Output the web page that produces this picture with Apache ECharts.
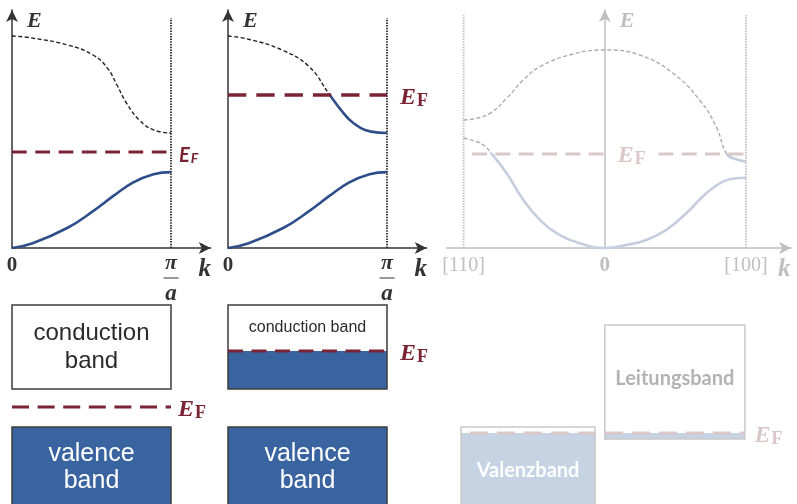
<!DOCTYPE html>
<html>
<head>
<meta charset="utf-8">
<script src="https://cdn.jsdelivr.net/npm/echarts@6/dist/echarts.min.js"></script>
<style>
  html, body { margin: 0; padding: 0; background: #ffffff; }
  #chart { width: 797px; height: 504px; }
</style>
</head>
<body>
<div id="chart"></div>
<script>
// ---- E(k) data, energies in arbitrary units, k in units of the zone edge ----
// insulator
const kUpperInsulator = [0, 0.13, 0.35, 0.51, 0.60, 0.66, 0.72, 0.80, 0.89, 1.0];
const eUpperInsulator = [8.91, 8.82, 8.53, 8.11, 7.56, 6.85, 6.09, 5.38, 4.96, 4.83];
const kLowerBand = [0, 0.13, 0.35, 0.51, 0.64, 0.76, 0.89, 1.0];
const eLowerBand = [0, 0.20, 0.85, 1.55, 2.20, 2.75, 3.10, 3.19];
const fermiInsulator = 4.03;

// metal: upper band dips below the Fermi level
const kUpperMetal = [0, 0.13, 0.34, 0.51, 0.64, 0.71, 0.79, 0.90, 1.0];
const eUpperMetal = [8.91, 8.77, 8.32, 7.62, 6.43, 5.80, 5.24, 4.89, 4.83];
const fermiMetal = 6.43;

// semimetal, two directions [110] (k < 0) and [100] (k > 0)
const kUpperSemi = [-1, -0.931, -0.813, -0.695, -0.577, -0.459, -0.224, 0, 0.247, 0.483, 0.671, 0.789, 0.864, 0.931, 1.0];
const eUpperSemi = [5.38, 5.42, 5.66, 6.29, 7.06, 7.62, 8.15, 8.32, 8.11, 7.34, 6.22, 5.10, 3.95, 3.73, 3.63];
const kLowerSemi = [-1, -0.93, -0.86, -0.80, -0.695, -0.577, -0.459, -0.341, -0.177, 0, 0.153, 0.295, 0.436, 0.577, 0.719, 0.836, 0.931, 1.0];
const eLowerSemi = [4.61, 4.51, 4.33, 3.95, 3.14, 2.02, 1.18, 0.62, 0.20, 0, 0.13, 0.34, 0.76, 1.46, 2.30, 2.79, 2.93, 2.95];
const fermiSemi = 3.95;

// axis ticks
const kTicks = [0, 1];
const kTickLabels = ['0', 'π/a'];
const kTicksSemi = [-1, 0, 1];
const kTickLabelsSemi = ['[110]', '0', '[100]'];
const zoneEdgeTop = 9.66;
const zoneEdgeTopSemi = 9.79;

// ---- band boxes: [k from, k to, E bottom, E top, filled up to] ----
const boxesInsulator = [[0, 1, 11.5, 19.9, 11.5], [0, 1, -0.5, 7.7, 7.7]];
const boxLabelsInsulator = ['conduction\nband', 'valence\nband'];
const boxFermiInsulator = 9.7;

const boxesMetal = [[0, 1, 11.5, 19.9, 15.3], [0, 1, -0.5, 7.7, 7.7]];
const boxLabelsMetal = ['conduction band', 'valence\nband'];
const boxFermiMetal = 15.3;

const boxesSemi = [[0, 0.992, 6.5, 17.9, 7.1], [-1.018, -0.069, -0.5, 7.7, 7.1]];
const boxLabelsSemi = ['Leitungsband', 'Valenzband'];
const boxFermiSemi = 7.1;
const boxFermiSpanSemi = [-0.955, 0.99];

// ---- styles ----
const INK = '#333333';
const BLUE = '#2f4f8a';
const FERMI = '#7a2333';
const BOX_BLUE = '#3a64a0';
const FADE_AXIS = '#bfbfbf';
const FADE_TEXT = '#b3b3b3';
const FADE_BLUE = '#c5cede';
const FADE_DASH = '#acacac';
const FADE_FERMI = '#dac7c7';
const FADE_FILL = '#c6d3e3';
const SERIF = '"Liberation Serif", "DejaVu Serif", serif';
const SANS = '"Liberation Sans", Arial, sans-serif';
const ROUND = 'Lato, "Open Sans", sans-serif';

// ---- panel frames: pixel origin of (k = 0, E = 0) and pixels per unit ----
const frameInsulator = { x0: 12, y0: 248, sx: 159, sy: 23.8 };
const frameMetal = { x0: 228, y0: 248, sx: 159, sy: 23.8 };
const frameSemi = { x0: 604.8, y0: 248, sx: 141.2, sy: 23.8 };
const frameBoxInsulator = { x0: 12, y0: 504, sx: 159, sy: 10 };
const frameBoxMetal = { x0: 228, y0: 504, sx: 159, sy: 10 };
const frameBoxSemi = { x0: 604.8, y0: 504, sx: 141.2, sy: 10 };

const grids = [], xAxes = [], yAxes = [];
function addGrid(f, kRange, eRange, xOpts, yOpts) {
  const i = grids.length;
  grids.push({
    left: f.x0 + kRange[0] * f.sx, top: f.y0 - eRange[1] * f.sy,
    width: (kRange[1] - kRange[0]) * f.sx, height: (eRange[1] - eRange[0]) * f.sy
  });
  xAxes.push(Object.assign({ type: 'value', gridIndex: i, min: kRange[0], max: kRange[1] }, xOpts || { show: false }));
  yAxes.push(Object.assign({ type: 'value', gridIndex: i, min: eRange[0], max: eRange[1] }, yOpts || { show: false }));
  return i;
}

function pairs(ks, es) { return ks.map((k, i) => [k, es[i]]); }

function curve(grid, data, lineStyle) {
  return {
    type: 'line', xAxisIndex: grid, yAxisIndex: grid, data: data, clip: true,
    smooth: 0.45, symbol: 'none', silent: true, z: 3, lineStyle: lineStyle
  };
}

function fermiRich(color, sans) {
  if (sans) {
    return {
      e: { fontFamily: ROUND, fontStyle: 'italic', fontWeight: 'bold', fontSize: 20, color: color, lineHeight: 22, verticalAlign: 'bottom' },
      f: { fontFamily: ROUND, fontStyle: 'italic', fontWeight: 'bold', fontSize: 14, color: color, lineHeight: 12, padding: [10, 0, 0, 1], verticalAlign: 'bottom' }
    };
  }
  return {
    e: { fontFamily: SERIF, fontStyle: 'italic', fontWeight: 'bold', fontSize: 24, color: color, lineHeight: 24, verticalAlign: 'bottom' },
    f: { fontFamily: SERIF, fontWeight: 'bold', fontSize: 18, color: color, lineHeight: 16, padding: [12, 0, 0, 1], verticalAlign: 'bottom' }
  };
}

function fermiLine(grid, k0, k1, e, color, width, dash, labelDist, sans, offsetY) {
  return {
    type: 'line', xAxisIndex: grid, yAxisIndex: grid, data: [[k0, e], [k1, e]],
    symbol: 'none', silent: true, z: 4,
    lineStyle: { color: color, width: width, type: dash },
    endLabel: {
      show: true, distance: labelDist, offset: [0, offsetY || 0],
      formatter: '{e|E}{f|F}', rich: fermiRich(color, sans)
    }
  };
}

function zoneEdge(grid, k, top, color) {
  return {
    type: 'line', xAxisIndex: grid, yAxisIndex: grid, data: [[k, 0], [k, top]],
    symbol: 'none', silent: true, z: 2,
    lineStyle: { color: color, width: 1.8, type: [1.5, 1.2] }
  };
}

function tickRich(color) {
  return {
    n: { fontFamily: SERIF, fontWeight: 'bold', fontSize: 21, color: color, lineHeight: 24 },
    m: { fontFamily: SERIF, fontSize: 20, color: color, lineHeight: 24 },
    num: { fontFamily: SERIF, fontWeight: 'bold', fontStyle: 'italic', fontSize: 22, color: color, lineHeight: 18 },
    bar: { width: 15, height: 0, borderColor: color, borderWidth: 1.2, lineHeight: 12 },
    den: { fontFamily: SERIF, fontWeight: 'bold', fontStyle: 'italic', fontSize: 23, color: color, lineHeight: 20 }
  };
}

function kAxis(ticks, labels, color, nameGap) {
  return {
    name: 'k', nameLocation: 'end', nameGap: nameGap,
    nameTextStyle: { fontFamily: SERIF, fontWeight: 'bold', fontStyle: 'italic', fontSize: 25, color: color, align: 'center', verticalAlign: 'top', padding: [9, 0, 0, 0] },
    axisLine: { show: true, onZero: true, symbol: ['none', 'arrow'], symbolSize: [9, 12], lineStyle: { color: color, width: 1.5 } },
    axisTick: { show: false }, splitLine: { show: false },
    axisLabel: {
      show: true, margin: 6, customValues: ticks,
      formatter: function (v) {
        const t = labels[ticks.indexOf(v)];
        if (t === undefined) return '';
        if (t.indexOf('/') >= 0) {
          const parts = t.split('/');
          return '{num|' + parts[0] + '}\n{bar|}\n{den|' + parts[1] + '}';
        }
        return /^\d+$/.test(t) ? '{n|' + t + '}' : '{m|' + t + '}';
      },
      rich: tickRich(color)
    }
  };
}

function eAxis(color) {
  return {
    name: 'E', nameLocation: 'end', nameGap: 0,
    nameTextStyle: { fontFamily: SERIF, fontWeight: 'bold', fontStyle: 'italic', fontSize: 22, color: color, align: 'left', verticalAlign: 'top', padding: [0, 0, 0, 15] },
    axisLine: { show: true, onZero: true, symbol: ['none', 'arrow'], symbolSize: [9, 12], lineStyle: { color: color, width: 1.5 } },
    axisTick: { show: false }, axisLabel: { show: false }, splitLine: { show: false }
  };
}

function bandBoxes(grid, boxes, labels, look) {
  return {
    type: 'custom', xAxisIndex: grid, yAxisIndex: grid, silent: true, z: 2,
    data: boxes,
    renderItem: function (params, api) {
      const k0 = api.value(0), k1 = api.value(1), lo = api.value(2), hi = api.value(3), fill = api.value(4);
      const tl = api.coord([k0, hi]);
      const br = api.coord([k1, lo]);
      const fillTop = api.coord([k0, fill])[1];
      const x = tl[0], y = tl[1], w = br[0] - tl[0], h = br[1] - tl[1];
      const children = [];
      if (fill > lo) {
        children.push({ type: 'rect', shape: { x: x, y: fillTop, width: w, height: br[1] - fillTop }, style: { fill: look.fill } });
      }
      children.push({ type: 'rect', shape: { x: x, y: y, width: w, height: h }, style: { fill: 'none', stroke: look.stroke, lineWidth: look.strokeWidth } });
      const inFill = (fill - lo) > (hi - lo) / 2;
      const cy = inFill ? (fillTop + br[1]) / 2 : (y + fillTop) / 2;
      const t = look.text[params.dataIndex];
      children.push({
        type: 'text',
        style: {
          text: labels[params.dataIndex], x: x + w / 2, y: cy,
          align: 'center', verticalAlign: 'middle',
          fill: inFill ? t.onFill : t.color,
          fontSize: t.size, fontFamily: t.family, fontWeight: t.weight, lineHeight: t.lineHeight
        }
      });
      return { type: 'group', children: children };
    }
  };
}

const dashBlack = { color: '#222222', width: 1.4, type: [4, 2.4] };
const solidBlue = { color: BLUE, width: 2.6 };
const dashFade = { color: FADE_DASH, width: 1.4, type: [4, 2.4] };
const solidFade = { color: FADE_BLUE, width: 2.6 };

const darkLook = {
  fill: BOX_BLUE, stroke: '#3c3c3c', strokeWidth: 1.5,
  text: [
    { color: '#2b2b2b', onFill: '#ffffff', size: 24, family: SANS, weight: 'normal', lineHeight: 28 },
    { color: '#2b2b2b', onFill: '#ffffff', size: 25, family: SANS, weight: 'normal', lineHeight: 27 }
  ]
};
const darkLookMetal = {
  fill: BOX_BLUE, stroke: '#3c3c3c', strokeWidth: 1.5,
  text: [
    { color: '#2b2b2b', onFill: '#ffffff', size: 16, family: SANS, weight: 'normal', lineHeight: 20 },
    { color: '#2b2b2b', onFill: '#ffffff', size: 25, family: SANS, weight: 'normal', lineHeight: 27 }
  ]
};
const fadeLook = {
  fill: FADE_FILL, stroke: '#c9c9c9', strokeWidth: 1.5,
  text: [
    { color: FADE_TEXT, onFill: '#ffffff', size: 20, family: ROUND, weight: 'bold', lineHeight: 24 },
    { color: FADE_TEXT, onFill: '#ffffff', size: 20, family: ROUND, weight: 'bold', lineHeight: 24 }
  ]
};

// ---- coordinate systems ----
const gIns = addGrid(frameInsulator, [0, 1.25], [0, 10], kAxis(kTicks, kTickLabels, INK, -6), eAxis(INK));
const gMet = addGrid(frameMetal, [0, 1.25], [0, 10], kAxis(kTicks, kTickLabels, INK, -6), eAxis(INK));
const gSemi = addGrid(frameSemi, [-1.12, 1.32], [0, 10], kAxis(kTicksSemi, kTickLabelsSemi, FADE_AXIS, -7), eAxis(FADE_AXIS));
// empty states (above E_F) and occupied states (below E_F) are clipped apart
const gInsEmpty = addGrid(frameInsulator, [-0.05, 1.05], [fermiInsulator, 10.3]);
const gInsFull = addGrid(frameInsulator, [-0.05, 1.05], [-0.4, fermiInsulator]);
const gMetEmpty = addGrid(frameMetal, [-0.05, 1.05], [fermiMetal, 10.3]);
const gMetFull = addGrid(frameMetal, [-0.05, 1.05], [-0.4, fermiMetal]);
const gSemiEmpty = addGrid(frameSemi, [-1.05, 1.05], [fermiSemi, 10.3]);
const gSemiFull = addGrid(frameSemi, [-1.05, 1.05], [-0.4, fermiSemi]);
// band boxes
const gBoxIns = addGrid(frameBoxInsulator, [0, 1], [0, 21.4]);
const gBoxMet = addGrid(frameBoxMetal, [0, 1], [0, 21.4]);
const gBoxSemi = addGrid(frameBoxSemi, [-1.12, 1.32], [0, 21.4]);

function bandsSplit(gEmpty, gFull, bands, emptyStyle, fullStyle) {
  const out = [];
  bands.forEach(function (b) {
    out.push(curve(gEmpty, b, emptyStyle));
    out.push(curve(gFull, b, fullStyle));
  });
  return out;
}

const upperIns = pairs(kUpperInsulator, eUpperInsulator);
const upperMet = pairs(kUpperMetal, eUpperMetal);
const lowerBand = pairs(kLowerBand, eLowerBand);
const upperSemi = pairs(kUpperSemi, eUpperSemi);
const lowerSemi = pairs(kLowerSemi, eLowerSemi);

const series = [].concat(
  [zoneEdge(gIns, 1, zoneEdgeTop, '#2a2a2a')],
  bandsSplit(gInsEmpty, gInsFull, [upperIns, lowerBand], dashBlack, solidBlue),
  [fermiLine(gIns, 0, 1, fermiInsulator, FERMI, 3, [14.7, 8.6], 8, true, 2)],

  [zoneEdge(gMet, 1, zoneEdgeTop, '#2a2a2a')],
  bandsSplit(gMetEmpty, gMetFull, [upperMet, lowerBand], dashBlack, solidBlue),
  [fermiLine(gMet, 0, 1, fermiMetal, FERMI, 3.6, [18.3, 10], 13, false, 3)],

  [zoneEdge(gSemi, -1, zoneEdgeTopSemi, FADE_AXIS), zoneEdge(gSemi, 1, zoneEdgeTopSemi, FADE_AXIS)],
  bandsSplit(gSemiEmpty, gSemiFull, [upperSemi, lowerSemi], dashFade, solidFade),
  [{
    type: 'line', xAxisIndex: gSemi, yAxisIndex: gSemi, data: [[-0.94, fermiSemi], [1, fermiSemi]],
    symbol: 'none', silent: true, z: 4,
    lineStyle: { color: FADE_FERMI, width: 3, type: [15, 8.3] },
    markPoint: {
      symbol: 'rect', symbolSize: 0, silent: true,
      label: {
        show: true, position: 'inside', formatter: '{e|E}{f|F}', rich: fermiRich(FADE_FERMI, false),
        backgroundColor: '#ffffff', width: 50, align: 'center', offset: [0, 2]
      },
      data: [{ coord: [0.19, fermiSemi] }]
    }
  }],

  [
    bandBoxes(gBoxIns, boxesInsulator, boxLabelsInsulator, darkLook),
    fermiLine(gBoxIns, 0, 1, boxFermiInsulator, FERMI, 3, [17, 8.6], 7, false, 3),
    bandBoxes(gBoxMet, boxesMetal, boxLabelsMetal, darkLookMetal),
    fermiLine(gBoxMet, 0, 1, boxFermiMetal, FERMI, 3, [15, 8.5], 13, false, 3),
    bandBoxes(gBoxSemi, boxesSemi, boxLabelsSemi, fadeLook),
    fermiLine(gBoxSemi, boxFermiSpanSemi[0], boxFermiSpanSemi[1], boxFermiSemi, FADE_FERMI, 3, [18, 9], 10, false, 3)
  ]
);

const option = {
  animation: false,
  backgroundColor: '#ffffff',
  grid: grids,
  xAxis: xAxes,
  yAxis: yAxes,
  series: series
};

const chart = echarts.init(document.getElementById('chart'));
chart.setOption(option);
</script>
</body>
</html>
